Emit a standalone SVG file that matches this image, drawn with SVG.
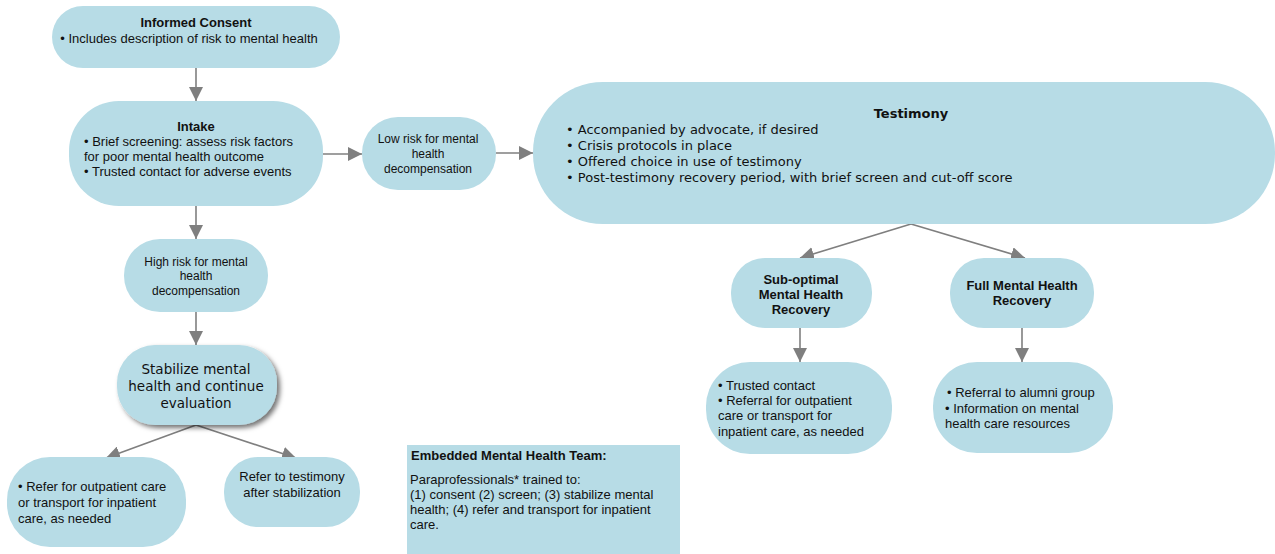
<svg xmlns="http://www.w3.org/2000/svg" width="1275" height="554" viewBox="0 0 1275 554">
<style>
.n{fill:#b7dce6;stroke:none}
.t{font-family:"Liberation Sans",Arial,sans-serif;font-size:13px;fill:#111}
.s{font-size:12px}
.b{font-weight:bold}
.c{text-anchor:middle}
.v{font-family:"DejaVu Sans",Verdana,sans-serif;font-size:13px;fill:#111}
.e{stroke:#7f7f7f;stroke-width:1.6;fill:none}
</style>
<defs>
<marker id="ah" markerUnits="userSpaceOnUse" markerWidth="16" markerHeight="14" refX="14" refY="7" orient="auto">
<path d="M0,0 L14,7 L0,14 Z" fill="#7f7f7f"/>
</marker>
<filter id="sh" x="-20%" y="-20%" width="140%" height="150%">
<feDropShadow dx="3" dy="3" stdDeviation="2.5" flood-color="#000" flood-opacity="0.55"/>
</filter>
</defs>
<rect width="1275" height="554" fill="#fff"/>

<g id="connectors">
<line class="e" x1="196" y1="68" x2="196" y2="101" marker-end="url(#ah)"/>
<line class="e" x1="323" y1="154" x2="362" y2="154" marker-end="url(#ah)"/>
<line class="e" x1="496" y1="153" x2="533" y2="153" marker-end="url(#ah)"/>
<line class="e" x1="196" y1="206" x2="196" y2="239" marker-end="url(#ah)"/>
<line class="e" x1="196" y1="312" x2="196" y2="345" marker-end="url(#ah)"/>
<line class="e" x1="196" y1="425" x2="106" y2="458" marker-end="url(#ah)"/>
<line class="e" x1="196" y1="425" x2="296" y2="458" marker-end="url(#ah)"/>
<line class="e" x1="911" y1="224" x2="800" y2="258" marker-end="url(#ah)"/>
<line class="e" x1="911" y1="224" x2="1025" y2="258" marker-end="url(#ah)"/>
<line class="e" x1="800" y1="328" x2="800" y2="362" marker-end="url(#ah)"/>
<line class="e" x1="1022" y1="328" x2="1022" y2="362" marker-end="url(#ah)"/>
</g>

<g id="consent">
<rect class="n" x="52" y="6" width="288" height="62" rx="31"/>
<text class="t b c" x="196" y="27">Informed Consent</text>
<text class="t c" x="189" y="43">• Includes description of risk to mental health</text>
</g>

<g id="intake">
<rect class="n" x="69" y="101" width="254" height="105" rx="50"/>
<text class="t b c" x="196" y="131">Intake</text>
<text class="t" x="84" y="146">• Brief screening: assess risk factors</text>
<text class="t" x="84" y="161">for poor mental health outcome</text>
<text class="t" x="84" y="176">• Trusted contact for adverse events</text>
</g>

<g id="lowrisk">
<rect class="n" x="362" y="117" width="134" height="73" rx="36"/>
<text class="t s c" x="428" y="143">Low risk for mental</text>
<text class="t s c" x="428" y="158">health</text>
<text class="t s c" x="428" y="173">decompensation</text>
</g>

<g id="testimony">
<rect class="n" x="533" y="82" width="742" height="142" rx="70"/>
<text class="v b c" x="911" y="118">Testimony</text>
<text class="v" x="566" y="134">• Accompanied by advocate, if desired</text>
<text class="v" x="566" y="150">• Crisis protocols in place</text>
<text class="v" x="566" y="166">• Offered choice in use of testimony</text>
<text class="v" x="566" y="182">• Post-testimony recovery period, with brief screen and cut-off score</text>
</g>

<g id="highrisk">
<rect class="n" x="124" y="239" width="144" height="73" rx="36"/>
<text class="t s c" x="196" y="266">High risk for mental</text>
<text class="t s c" x="196" y="280">health</text>
<text class="t s c" x="196" y="295">decompensation</text>
</g>

<g id="stabilize">
<rect class="n" x="117" y="345" width="160" height="80" rx="38" filter="url(#sh)"/>
<text class="v c" x="196" y="374" style="font-size:13.5px">Stabilize mental</text>
<text class="v c" x="196" y="391" style="font-size:13.5px">health and continue</text>
<text class="v c" x="196" y="408" style="font-size:13.5px">evaluation</text>
</g>

<g id="refer-outpatient">
<rect class="n" x="7" y="457" width="179" height="90" rx="43"/>
<text class="t" x="18" y="491">• Refer for outpatient care</text>
<text class="t" x="18" y="507">or transport for inpatient</text>
<text class="t" x="18" y="523">care, as needed</text>
</g>

<g id="refer-testimony">
<rect class="n" x="224" y="457" width="136" height="70" rx="34"/>
<text class="t c" x="292" y="481">Refer to testimony</text>
<text class="t c" x="292" y="497">after stabilization</text>
</g>

<g id="team">
<rect x="407" y="445" width="273" height="109" fill="#b7dce6"/>
<text class="t b" x="411" y="460">Embedded Mental Health Team:</text>
<text class="t" x="410" y="484">Paraprofessionals* trained to:</text>
<text class="t" x="410" y="499">(1) consent (2) screen; (3) stabilize mental</text>
<text class="t" x="410" y="514">health; (4) refer and transport for inpatient</text>
<text class="t" x="410" y="529">care.</text>
</g>

<g id="suboptimal">
<rect class="n" x="731" y="258" width="141" height="70" rx="34"/>
<text class="t b c" x="801" y="284">Sub-optimal</text>
<text class="t b c" x="801" y="299">Mental Health</text>
<text class="t b c" x="801" y="314">Recovery</text>
</g>

<g id="fullrecovery">
<rect class="n" x="950" y="258" width="144" height="70" rx="34"/>
<text class="t b c" x="1022" y="290">Full Mental Health</text>
<text class="t b c" x="1022" y="305">Recovery</text>
</g>

<g id="trusted">
<rect class="n" x="706" y="362" width="186" height="92" rx="44"/>
<text class="t" x="718" y="390">• Trusted contact</text>
<text class="t" x="718" y="405">• Referral for outpatient</text>
<text class="t" x="718" y="420">care or transport for</text>
<text class="t" x="718" y="436">inpatient care, as needed</text>
</g>

<g id="alumni">
<rect class="n" x="933" y="362" width="180" height="91" rx="44"/>
<text class="t" x="947" y="397">• Referral to alumni group</text>
<text class="t" x="945" y="413">• Information on mental</text>
<text class="t" x="945" y="428">health care resources</text>
</g>
</svg>
